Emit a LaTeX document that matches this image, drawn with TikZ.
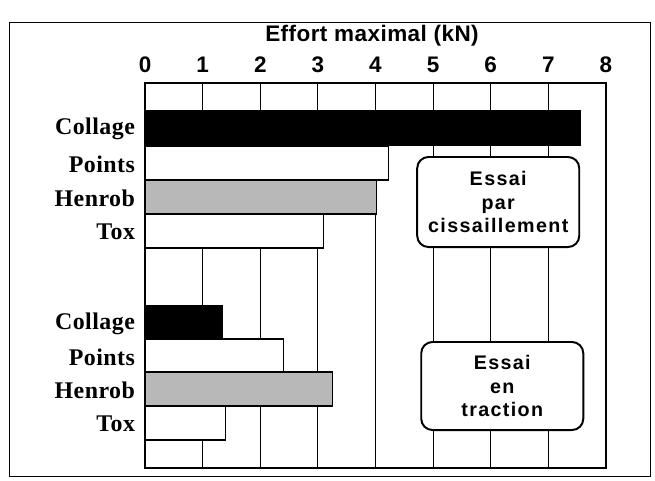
\documentclass[tikz,border=0pt]{standalone}
\usepackage{fontspec}
\setmainfont{Liberation Sans}
\newfontfamily\catfont[LetterSpace=2]{Liberation Serif}
\newfontfamily\essaifont[LetterSpace=7]{Liberation Sans}
\newfontfamily\titrefont[LetterSpace=2]{Liberation Sans}
\usetikzlibrary{positioning}

\tikzset{
  bar/.style={draw=black,line width=0.8pt},
  catlabel/.style={anchor=east,inner sep=0pt,font=\catfont\bfseries\fontsize{17}{20}\selectfont},
  ticklabel/.style={inner sep=0pt,font=\bfseries\fontsize{16}{19}\selectfont},
  essai/.style={draw,fill=white,line width=1.4pt,rounded corners=8pt,align=center,
    minimum width=4.05cm,font=\essaifont\bfseries\fontsize{14}{17}\selectfont}
}

\begin{document}
\begin{tikzpicture}[x=0.025cm,y=-0.025cm]
  \useasboundingbox (0,0) rectangle (655,480);
  %CADRE
  \draw[line width=0.7pt] (9,22) rectangle (650,476);
  \node[font=\titrefont\bfseries\fontsize{16}{19}\selectfont,inner sep=0pt] (titre) at (372,36) {Effort maximal (kN)};
  \begin{scope}[xshift=3.625cm,x=1.44cm]
    %GRILLE
    \foreach \v in {1,...,7}
      \draw[line width=0.6pt] (\v,83) coordinate (g\v) -- (\v,468);
    \foreach \v in {0,...,8}
      \node[ticklabel] (t\v) at (\v,65) {\v};
    %BARRES cisaillement
    \foreach \n/\top/\val/\f in {Collage/111/7.55/black,Points/146/4.22/white,Henrob/180/4.02/black!28,Tox/214/3.1/white}{
      \draw[bar,fill=\f] (0,\top) rectangle (\val,\top+34);
      \node[catlabel] (c\n) at (-0.17,\top+18) {\n};
    }
    %BARRES traction
    \foreach \n/\top/\val/\f in {Collage/306/1.35/black,Points/339/2.4/white,Henrob/372/3.25/black!28,Tox/406/1.4/white}{
      \draw[bar,fill=\f] (0,\top) rectangle (\val,\top+34);
      \node[catlabel] (tr\n) at (-0.17,\top+18) {\n};
    }
    %CADRE DU GRAPHE
    \draw[line width=1pt] (0,83) rectangle (8,468);
    \node[essai,minimum height=2.25cm] (cis) at (6.13,202) {Essai\\par\\cissaillement};
    \node[essai,minimum height=2.2cm] (trac) at (6.2,386) {Essai\\en\\traction};
  \end{scope}
\end{tikzpicture}
\end{document}
